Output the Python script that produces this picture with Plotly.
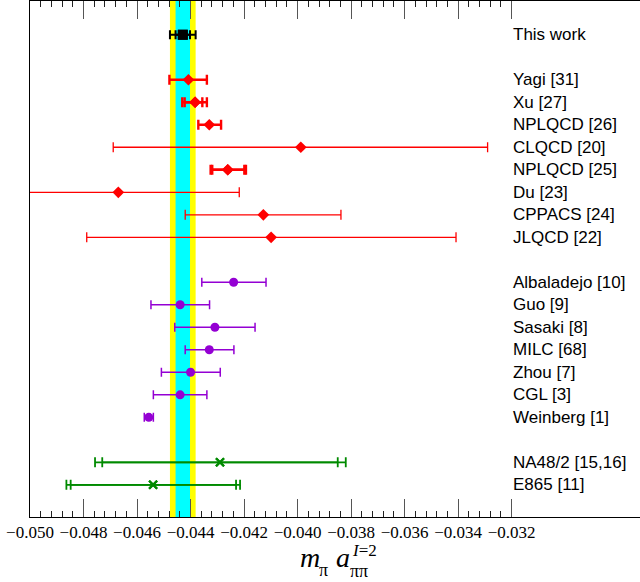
import numpy as np
import plotly.graph_objects as go

# ---------------- data ----------------
names = [
    "This work",
    "Yagi [31]", "Xu [27]", "NPLQCD [26]", "CLQCD [20]", "NPLQCD [25]",
    "Du [23]", "CPPACS [24]", "JLQCD [22]",
    "Albaladejo [10]", "Guo [9]", "Sasaki [8]", "MILC [68]", "Zhou [7]",
    "CGL [3]", "Weinberg [1]",
    "NA48/2 [15,16]", "E865 [11]",
]
kind = [
    "this",
    "lattice", "lattice", "lattice", "lattice", "lattice",
    "lattice", "lattice", "lattice",
    "pheno", "pheno", "pheno", "pheno", "pheno",
    "pheno", "pheno",
    "expt", "expt",
]
value = [
    -0.04429,
    -0.04408, -0.04383, -0.04330, -0.03988, -0.04261,
    -0.04670, -0.04128, -0.04099,
    -0.04239, -0.04439, -0.04309, -0.04330, -0.04400,
    -0.04439, -0.04556,
    -0.04290, -0.04540,
]
# inner (statistical) error, lower / upper
stat_lo = [
    0.00027,
    0.00071, 0.00039, 0.00041, 0.00701, 0.00058,
    0.00452, 0.00292, 0.00689,
    0.00119, 0.00109, 0.00150, 0.00090, 0.00109,
    0.00100, 0.00017,
    0.00440, 0.00308,
]
stat_hi = [
    0.00027,
    0.00069, 0.00027, 0.00044, 0.00698, 0.00062,
    0.00452, 0.00290, 0.00691,
    0.00121, 0.00110, 0.00150, 0.00092, 0.00111,
    0.00100, 0.00017,
    0.00440, 0.00310,
]
# outer (total) error, None where only one error is quoted
tot_lo = [
    0.00048,
    None, 0.00048, None, None, 0.00064,
    None, None, None,
    None, None, None, None, None,
    None, None,
    0.00467, 0.00324,
]
tot_hi = [
    0.00048,
    None, 0.00044, None, None, 0.00068,
    None, None, None,
    None, None, None, None, None,
    None, None,
    0.00470, 0.00325,
]

# row order, blank entries separate the groups
rows = [
    "This work", " ",
    "Yagi [31]", "Xu [27]", "NPLQCD [26]", "CLQCD [20]", "NPLQCD [25]",
    "Du [23]", "CPPACS [24]", "JLQCD [22]", "  ",
    "Albaladejo [10]", "Guo [9]", "Sasaki [8]", "MILC [68]", "Zhou [7]",
    "CGL [3]", "Weinberg [1]", "   ",
    "NA48/2 [15,16]", "E865 [11]",
]

major_ticks = [-0.050, -0.048, -0.046, -0.044, -0.042, -0.040,
               -0.038, -0.036, -0.034, -0.032]

# ---------------- styles ----------------
STYLE = {
    "this": dict(color="#000000", symbol="square", size=10, thick=2.0, cap=4.5),
    "lattice": dict(color="#ff0000", symbol="diamond", size=9, thick=1.3, cap=5),
    "pheno": dict(color="#9400d3", symbol="circle", size=9, thick=1.5, cap=4.5),
    "expt": dict(color="#008a00", symbol="x-thin", size=8, thick=1.8, cap=5),
}
THICK_LINES = {"Yagi [31]", "Xu [27]", "NPLQCD [26]", "NPLQCD [25]"}

fig = go.Figure()

# band of this work: total (yellow) and statistical (cyan)
i0 = names.index("This work")
c0 = value[i0]
fig.add_shape(type="rect", xref="x", yref="paper",
              x0=c0 - tot_lo[i0], x1=c0 + tot_hi[i0], y0=0, y1=1,
              fillcolor="#ffff00", line_width=0, layer="below")
fig.add_shape(type="rect", xref="x", yref="paper",
              x0=c0 - stat_lo[i0], x1=c0 + stat_hi[i0], y0=0, y1=1,
              fillcolor="#00ffff", line_width=0, layer="below")


def marker_for(st):
    if st["symbol"] == "x-thin":
        return dict(symbol="x-thin", size=st["size"],
                    line=dict(color=st["color"], width=2.2))
    return dict(symbol=st["symbol"], size=st["size"], color=st["color"],
                line=dict(width=0))


for i, name in enumerate(names):
    st = STYLE[kind[i]]
    thick = 2.4 if name in THICK_LINES else st["thick"]
    errs = []
    if tot_lo[i] is not None:
        errs.append((tot_lo[i], tot_hi[i]))
    errs.append((stat_lo[i], stat_hi[i]))
    for lo, hi in errs:
        fig.add_trace(go.Scatter(
            x=[value[i]], y=[name], mode="markers",
            marker=marker_for(st),
            error_x=dict(type="data", symmetric=False, array=[hi],
                         arrayminus=[lo], color=st["color"],
                         thickness=thick, width=st["cap"]),
            showlegend=False, hoverinfo="skip",
        ))

# labels next to each row
for name in names:
    fig.add_annotation(x=-0.032, y=name, xref="x", yref="y", text=name,
                       showarrow=False, xanchor="left", yanchor="middle",
                       xshift=-1,
                       font=dict(family="Liberation Sans", size=17,
                                 color="black"))

# axis title  m_pi a_pipi^{I=2}
serif = "Liberation Serif"
W, H, L, B, T = 640, 582, 30, 65, 1
pw, ph = W - L, H - B - T


def px(xp):
    return (xp - L) / pw


def py(yp):
    return (H - B - yp) / ph


title_parts = [
    ("<i>m</i>", 299, 557, 28),
    ("π", 318, 570, 18),
    ("<i>a</i>", 335, 557, 28),
    ("ππ", 349, 571, 18),
    ("<i>I</i>=2", 351, 550, 17),
]
for txt, xp, yp, fs in title_parts:
    fig.add_annotation(x=px(xp), y=py(yp), xref="paper", yref="paper",
                       text=txt, showarrow=False, xanchor="left",
                       yanchor="middle", borderpad=0,
                       font=dict(family=serif, size=fs, color="black"))

minor_ticks = [v for v in np.round(np.arange(-0.050, -0.0319, 0.0004), 5)
               if not np.any(np.isclose(v, major_ticks))]

fig.update_layout(
    width=W, height=H,
    margin=dict(l=L, r=0, t=T, b=B),
    paper_bgcolor="white", plot_bgcolor="white",
    xaxis=dict(
        range=[-0.050, -0.050 + pw / 26.76 * 0.001],
        showgrid=False, zeroline=False,
        showline=True, linecolor="black", linewidth=1, mirror="allticks",
        ticks="inside", ticklen=18, tickwidth=1.3, tickcolor="#555555",
        tickvals=major_ticks, tickformat=".3f",
        tickfont=dict(family=serif, size=17, color="black"),
        minor=dict(tickvals=minor_ticks, ticks="inside", ticklen=6,
                   tickwidth=1, tickcolor="#222222"),
    ),
    yaxis=dict(
        type="category", categoryorder="array", categoryarray=rows,
        range=[len(rows) + 0.43, -1.5],
        showticklabels=False, ticks="", showgrid=False, zeroline=False,
        showline=True, linecolor="black", linewidth=1, mirror=False,
    ),
)

fig.write_html("out.html")
